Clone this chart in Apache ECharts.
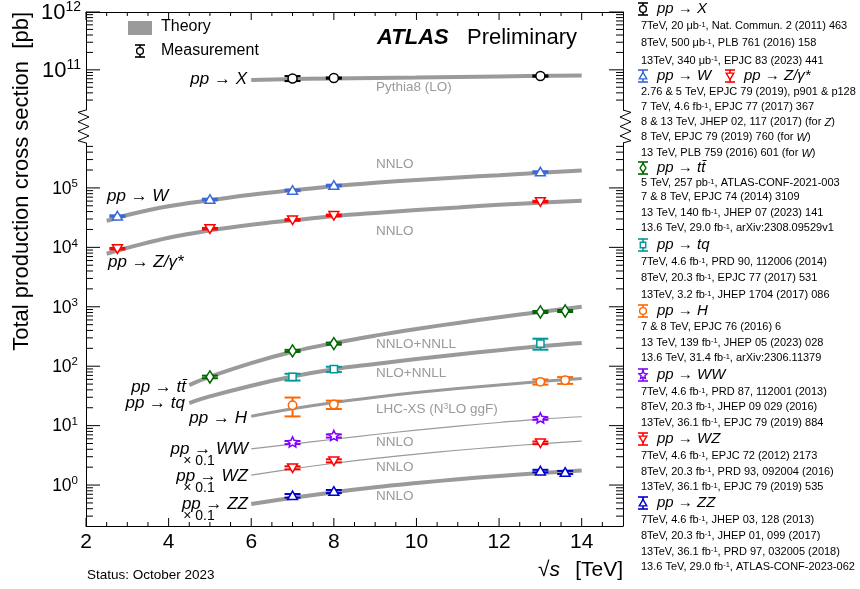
<!DOCTYPE html>
<html>
<head>
<meta charset="utf-8">
<script src="https://cdn.jsdelivr.net/npm/echarts@6/dist/echarts.min.js"></script>
<style>
  html, body { margin: 0; padding: 0; background: #fff; }
  #chart { width: 860px; height: 589px; }
</style>
</head>
<body>
<div id="chart"></div>
<script>
// ======================
// DATA
// ======================

// measurements (sqrt(s) in TeV, sigma in pb, relative uncertainty)
const sqrtsX = [7, 8, 13];
const xsecX = [7.1e10, 7.2e10, 7.8e10];
const errX = [0.10, 0.025, 0.025];

const sqrtsW = [2.76, 5, 7, 8, 13];
const xsecW = [3.36e4, 6.4e4, 9.1e4, 1.1e5, 1.85e5];
const errW = [0.03, 0.03, 0.03, 0.03, 0.03];

const sqrtsZ = [2.76, 5, 7, 8, 13];
const xsecZ = [9.5e3, 2.06e4, 2.9e4, 3.45e4, 5.9e4];
const errZ = [0.03, 0.03, 0.03, 0.03, 0.03];

const sqrtsTT = [5, 7, 8, 13, 13.6];
const xsecTT = [66, 181, 240, 818, 850];
const errTT = [0.05, 0.04, 0.04, 0.04, 0.04];

const sqrtsTQ = [7, 8, 13];
const xsecTQ = [66, 89, 240];
const errTQ = [0.13, 0.10, 0.21];

const sqrtsH = [7, 8, 13, 13.6];
const xsecH = [22, 22.7, 54.5, 58];
const errH = [0.35, 0.16, 0.10, 0.13];

const sqrtsWW = [7, 8, 13];
const xsecWW = [5.2, 6.7, 13.2];   // x 0.1
const errWW = [0.06, 0.06, 0.05];

const sqrtsWZ = [7, 8, 13];
const xsecWZ = [1.95, 2.56, 5.14]; // x 0.1
const errWZ = [0.06, 0.06, 0.05];

const sqrtsZZ = [7, 8, 13, 13.6];
const xsecZZ = [0.66, 0.78, 1.72, 1.63]; // x 0.1
const errZZ = [0.07, 0.06, 0.05, 0.06];

// theory predictions
const thSqrtsX = [6, 8, 10, 12, 14];
const thX = [6.7e10, 7.1e10, 7.4e10, 7.7e10, 8.0e10];

const thSqrtsWZ = [2.5, 2.76, 3, 4, 5, 6, 7, 8, 9, 10, 11, 12, 13, 14];
const thW = [2.8e4, 3.1e4, 3.5e4, 4.9e4, 6.2e4, 7.7e4, 9.1e4, 1.07e5, 1.22e5, 1.36e5, 1.5e5, 1.64e5, 1.8e5, 1.96e5];
const thZ = [7.8e3, 8.8e3, 9.8e3, 1.45e4, 1.93e4, 2.4e4, 2.85e4, 3.35e4, 3.8e4, 4.25e4, 4.7e4, 5.2e4, 5.65e4, 6.1e4];

const thSqrtsTop = [4.5, 5, 6, 7, 8, 9, 10, 11, 12, 13, 14];
const thTT = [48, 66.5, 113, 175, 245, 327, 423, 535, 668, 820, 1000];
const thTQ = [24, 31, 47, 67, 89, 109, 132, 158, 186, 217, 245];

const thSqrtsDi = [6, 7, 8, 9, 10, 11, 12, 13, 14];
const thH = [14.4, 19.2, 24.5, 30.1, 36.0, 42.1, 48.5, 55.1, 62.1];
const thWW = [4.05, 4.9, 5.9, 7.1, 8.4, 9.8, 11.3, 12.9, 14.1];
const thWZ = [1.47, 1.87, 2.33, 2.82, 3.32, 3.85, 4.4, 4.95, 5.5];
const thZZ = [0.48, 0.61, 0.76, 0.92, 1.08, 1.25, 1.42, 1.59, 1.76];

// axis ticks
const xMajorTicks = [2, 4, 6, 8, 10, 12, 14];
const xMinorTicks = [2.5, 3, 3.5, 4.5, 5, 5.5, 6.5, 7, 7.5, 8.5, 9, 9.5, 10.5, 11, 11.5, 12.5, 13, 13.5, 14.5];
const yMajorUpper = [1e11, 1e12];
const yMajorLower = [1, 10, 100, 1e3, 1e4, 1e5];

// references (right panel)
const refsX = ['7TeV, 20 μb{s|-1}, Nat. Commun. 2 (2011) 463', '8TeV, 500 μb{s|-1}, PLB 761 (2016) 158', '13TeV, 340 μb{s|-1}, EPJC 83 (2023) 441'];
const refsWZ = ['2.76 & 5 TeV, EPJC 79 (2019), p901 & p128', '7 TeV, 4.6 fb{s|-1}, EPJC 77 (2017) 367', '8 & 13 TeV, JHEP 02, 117 (2017) (for {i|Z})', '8 TeV, EPJC 79 (2019) 760 (for {i|W})', '13 TeV, PLB 759 (2016) 601 (for {i|W})'];
const refsTT = ['5 TeV, 257 pb{s|-1}, ATLAS-CONF-2021-003', '7 & 8 TeV, EPJC 74 (2014) 3109', '13 TeV, 140 fb{s|-1}, JHEP 07 (2023) 141', '13.6 TeV, 29.0 fb{s|-1}, arXiv:2308.09529v1'];
const refsTQ = ['7TeV, 4.6 fb{s|-1}, PRD 90, 112006 (2014)', '8TeV, 20.3 fb{s|-1}, EPJC 77 (2017) 531', '13TeV, 3.2 fb{s|-1}, JHEP 1704 (2017) 086'];
const refsH = ['7 & 8 TeV, EPJC 76 (2016) 6', '13 TeV, 139 fb{s|-1}, JHEP 05 (2023) 028', '13.6 TeV, 31.4 fb{s|-1}, arXiv:2306.11379'];
const refsWW = ['7TeV, 4.6 fb{s|-1}, PRD 87, 112001 (2013)', '8TeV, 20.3 fb{s|-1}, JHEP 09 029 (2016)', '13TeV, 36.1 fb{s|-1}, EPJC 79 (2019) 884'];
const refsWZd = ['7TeV, 4.6 fb{s|-1}, EPJC 72 (2012) 2173', '8TeV, 20.3 fb{s|-1}, PRD 93, 092004 (2016)', '13TeV, 36.1 fb{s|-1}, EPJC 79 (2019) 535'];
const refsZZ = ['7TeV, 4.6 fb{s|-1}, JHEP 03, 128 (2013)', '8TeV, 20.3 fb{s|-1}, JHEP 01, 099 (2017)', '13TeV, 36.1 fb{s|-1}, PRD 97, 032005 (2018)', '13.6 TeV, 29.0 fb{s|-1}, ATLAS-CONF-2023-062'];

// ======================
// STYLE / LAYOUT
// ======================
const FONT = '"Liberation Sans", Arial, Helvetica, sans-serif';
const GRAY = '#9a9a9a';
const C = {
    X: '#000000', W: '#3a68d8', Z: '#ff0000', TT: '#006600', TQ: '#009999',
    H: '#ff6600', WW: '#8000ff', WZ: '#ff0000', ZZ: '#0000cc'
};
const gridLeft = 86, gridRight = 623, breakTop = 110, breakBottom = 143, plotBottom = 526;
const upperMin = 2.02e10, upperMax = 1e12;
const lowerMin = 0.2047, lowerMax = 5.7e5;

// ======================
// HELPERS
// ======================
function markerShape(x, y, r, shape, color, lw) {
    const st = { fill: '#fff', stroke: color, lineWidth: lw || 1.5 };
    switch (shape) {
        case 'circle':
            return { type: 'circle', shape: { cx: x, cy: y, r: r }, style: st };
        case 'up':
            return { type: 'polygon', shape: { points: [[x, y - r * 1.05], [x + r * 1.1, y + r * 0.85], [x - r * 1.1, y + r * 0.85]] }, style: st };
        case 'down':
            return { type: 'polygon', shape: { points: [[x, y + r * 1.05], [x + r * 1.1, y - r * 0.85], [x - r * 1.1, y - r * 0.85]] }, style: st };
        case 'diamond':
            return { type: 'polygon', shape: { points: [[x, y - r * 1.35], [x + r * 0.85, y], [x, y + r * 1.35], [x - r * 0.85, y]] }, style: st };
        case 'square':
            return { type: 'rect', shape: { x: x - r * 0.8, y: y - r * 0.8, width: r * 1.6, height: r * 1.6 }, style: st };
        case 'star': {
            const pts = [];
            for (let k = 0; k < 10; k++) {
                const a = -Math.PI / 2 + k * Math.PI / 5;
                const rr = k % 2 === 0 ? r * 1.25 : r * 0.6;
                pts.push([x + rr * Math.cos(a), y + rr * Math.sin(a)]);
            }
            return { type: 'polygon', shape: { points: pts }, style: st };
        }
    }
}

function measSeries(xs, ys, errs, color, shape, r, xi, yi) {
    return {
        type: 'custom', xAxisIndex: xi, yAxisIndex: yi, z: 4, silent: true, clip: false,
        data: xs.map((x, i) => [x, ys[i], errs[i]]),
        renderItem: (params, api) => {
            const x = api.value(0), y = api.value(1), e = api.value(2);
            const p = api.coord([x, y]);
            const hi = api.coord([x, y * (1 + e)]);
            const lo = api.coord([x, y * (1 - e)]);
            const w = 8;
            const st = { stroke: color, lineWidth: 2 };
            return {
                type: 'group',
                children: [
                    { type: 'line', shape: { x1: hi[0], y1: hi[1], x2: lo[0], y2: lo[1] }, style: st },
                    { type: 'line', shape: { x1: hi[0] - w, y1: hi[1], x2: hi[0] + w, y2: hi[1] }, style: st },
                    { type: 'line', shape: { x1: lo[0] - w, y1: lo[1], x2: lo[0] + w, y2: lo[1] }, style: st },
                    markerShape(p[0], p[1], r, shape, color)
                ]
            };
        }
    };
}

function theorySeries(xs, ys, width, xi, yi) {
    return {
        type: 'line', xAxisIndex: xi, yAxisIndex: yi, z: 2, silent: true,
        smooth: 0.4, showSymbol: false, symbol: 'none',
        data: xs.map((x, i) => [x, ys[i]]),
        lineStyle: { color: GRAY, width: width }
    };
}

function minorDecades(lo, hi) {
    const out = [];
    for (let d = Math.floor(Math.log10(lo)); d <= Math.ceil(Math.log10(hi)); d++) {
        for (let k = 2; k <= 9; k++) {
            const v = k * Math.pow(10, d);
            if (v > lo && v < hi) out.push(v);
        }
    }
    return out;
}

function tickSeries(xi, yi, yMajor, yMinor, edgeY, dir) {
    return {
        type: 'custom', xAxisIndex: xi, yAxisIndex: yi, z: 6, silent: true, clip: false,
        data: [[2, yMajor[0]]],
        renderItem: (params, api) => {
            const children = [];
            const st = { stroke: '#000', lineWidth: 1 };
            const yt = (v, len) => {
                const l = api.coord([2, v]), r = api.coord([15, v]);
                children.push({ type: 'line', shape: { x1: l[0], y1: l[1], x2: l[0] + len, y2: l[1] }, style: st });
                children.push({ type: 'line', shape: { x1: r[0], y1: r[1], x2: r[0] - len, y2: r[1] }, style: st });
            };
            const xt = (v, len) => {
                const p = api.coord([v, edgeY]);
                children.push({ type: 'line', shape: { x1: p[0], y1: p[1], x2: p[0], y2: p[1] + dir * len }, style: st });
            };
            yMajor.forEach(v => yt(v, 14));
            yMinor.forEach(v => yt(v, 7));
            xMajorTicks.forEach(v => xt(v, 8));
            xMinorTicks.forEach(v => xt(v, 4));
            return { type: 'group', children: children };
        }
    };
}

function logLabel(size, supSize, lh) {
    return {
        fontFamily: FONT, color: '#000',
        formatter: v => '{b|10}{s|' + Math.round(Math.log10(v)) + '}',
        rich: {
            b: { fontSize: size, fontFamily: FONT, color: '#000', lineHeight: lh, verticalAlign: 'bottom' },
            s: { fontSize: supSize, fontFamily: FONT, color: '#000', lineHeight: supSize, verticalAlign: 'top' }
        }
    };
}

function txt(x, y, text, opts) {
    return {
        type: 'text', x: x, y: y, silent: true,
        style: Object.assign({ text: text, fontFamily: FONT, fontSize: 14, fill: '#000', align: 'left', verticalAlign: 'middle' }, opts || {})
    };
}

function icon(x, y, color, shape) {
    const st = { stroke: color, lineWidth: 1.6 };
    return {
        type: 'group', silent: true,
        children: [
            { type: 'line', shape: { x1: x, y1: y - 6, x2: x, y2: y + 6 }, style: st },
            { type: 'line', shape: { x1: x - 5, y1: y - 6, x2: x + 5, y2: y - 6 }, style: st },
            { type: 'line', shape: { x1: x - 5, y1: y + 6, x2: x + 5, y2: y + 6 }, style: st },
            markerShape(x, y, 3.4, shape, color, 1.4)
        ]
    };
}

function zigzag(x0, outDir) {
    const pts = [[x0, breakTop]];
    const n = 7;
    for (let k = 0; k < n; k++) {
        const y = breakTop + (k + 0.5) * (breakBottom - breakTop) / n;
        pts.push([k % 2 === 0 ? x0 + outDir * 8 : x0 - outDir * 3, y]);
    }
    pts.push([x0, breakBottom]);
    return { type: 'polyline', silent: true, shape: { points: pts }, style: { stroke: '#000', lineWidth: 1, fill: 'none' } };
}

// ======================
// GRAPHIC (texts, legends)
// ======================
const refStyle = {
    fontSize: 11,
    rich: {
        s: { fontSize: 7.5, fontFamily: FONT, fill: '#000', lineHeight: 7.5, verticalAlign: 'top' },
        i: { fontSize: 11, fontFamily: FONT, fill: '#000', fontStyle: 'italic', lineHeight: 12.5, verticalAlign: 'bottom' }
    }
};
const hdr = { fontSize: 15, fontStyle: 'italic' };
const rowY = [9, 26, 43, 60.5, 76, 91.7, 107, 122, 137, 152.7, 168, 183, 197, 213.3, 228, 245, 262, 278, 295, 311,
              327, 342.7, 358, 375, 392, 407, 422.7, 439, 456, 471.7, 487, 503, 520, 535.7, 551.7, 566.7];

const legendBlocks = [
    { head: [['pp → X', C.X, 'circle']], refs: refsX },
    { head: [['pp → W', C.W, 'up'], ['pp → Z/γ*', C.Z, 'down']], refs: refsWZ },
    { head: [['pp → tt\u0304', C.TT, 'diamond']], refs: refsTT },
    { head: [['pp → tq', C.TQ, 'square']], refs: refsTQ },
    { head: [['pp → H', C.H, 'circle']], refs: refsH },
    { head: [['pp → WW', C.WW, 'star']], refs: refsWW },
    { head: [['pp → WZ', C.WZ, 'down']], refs: refsWZd },
    { head: [['pp → ZZ', C.ZZ, 'up']], refs: refsZZ }
];

const graphics = [];
let row = 0;
legendBlocks.forEach(b => {
    const y = rowY[row++];
    b.head.forEach((h, k) => {
        const ix = k === 0 ? 643 : 730;
        graphics.push(icon(ix, y, h[1], h[2]));
        graphics.push(txt(ix + 14, y, h[0], hdr));
    });
    b.refs.forEach(r => graphics.push(txt(641, rowY[row++], r, refStyle)));
});

// theory / measurement legend
graphics.push({ type: 'rect', silent: true, shape: { x: 128, y: 21, width: 24, height: 14 }, style: { fill: GRAY } });
graphics.push(txt(161, 27, 'Theory', { fontSize: 16 }));
graphics.push(icon(140, 51, '#000', 'circle'));
graphics.push(txt(161, 51, 'Measurement', { fontSize: 16 }));

// ATLAS label
graphics.push(txt(377, 38, 'ATLAS', { fontSize: 22, fontWeight: 'bold', fontStyle: 'italic' }));
graphics.push(txt(467, 38, 'Preliminary', { fontSize: 22 }));

// theory labels
const thLabelY = [87, 164, 231, 344, 373, 409, 442, 467, 496];
const thLabelText = ['Pythia8 (LO)', 'NNLO', 'NNLO', 'NNLO+NNLL', 'NLO+NNLL', 'LHC-XS (N{s|3}LO ggF)', 'NNLO', 'NNLO', 'NNLO'];
thLabelText.forEach((t, i) => graphics.push(txt(376, thLabelY[i], t, {
    fontSize: 13.5, fill: GRAY,
    rich: {
        s: { fontSize: 8.5, fontFamily: FONT, fill: GRAY, lineHeight: 9, verticalAlign: 'top' }
    }
})));

// process labels
const pl = { fontSize: 17, fontStyle: 'italic' };
graphics.push(txt(247, 79, 'pp → X', Object.assign({ align: 'right' }, pl)));
graphics.push(txt(107, 196, 'pp → W', pl));
graphics.push(txt(108, 262, 'pp → Z/γ*', pl));
graphics.push(txt(186, 387, 'pp → tt\u0304', Object.assign({ align: 'right' }, pl)));
graphics.push(txt(185, 403, 'pp → tq', Object.assign({ align: 'right' }, pl)));
graphics.push(txt(247, 418, 'pp → H', Object.assign({ align: 'right' }, pl)));
[['WW', 449], ['WZ', 476], ['ZZ', 504]].forEach(([p, y]) => {
    graphics.push(txt(248, y, 'pp → ' + p, Object.assign({ align: 'right' }, pl)));
    graphics.push(txt(199, y + 12, '× 0.1', { fontSize: 14, align: 'center' }));
});

// axis titles
graphics.push(txt(22, 12, 'Total production cross section  [pb]', { fontSize: 22, align: 'right' }));
graphics[graphics.length - 1].rotation = Math.PI / 2;
graphics.push(txt(538, 570, '√{i|s}', { fontSize: 21, rich: { i: { fontSize: 21, fontFamily: FONT, fontStyle: 'italic', fill: '#000' } } }));
graphics.push(txt(623, 570, '[TeV]', { fontSize: 21, align: 'right' }));
graphics.push(txt(87, 575, 'Status: October 2023', { fontSize: 13.5 }));

// axis breaks
graphics.push(zigzag(gridLeft, -1));
graphics.push(zigzag(gridRight, 1));

// ======================
// CHART
// ======================
const axisLine = { show: true, onZero: false, lineStyle: { color: '#000', width: 1 } };
const noAxisDecor = { axisTick: { show: false }, splitLine: { show: false }, minorTick: { show: false } };

const option = {
    animation: false,
    backgroundColor: '#fff',
    grid: [
        { left: gridLeft, top: 10, width: gridRight - gridLeft, height: breakTop - 10 },
        { left: gridLeft, top: breakBottom, width: gridRight - gridLeft, height: plotBottom - breakBottom }
    ],
    xAxis: [
        Object.assign({ type: 'value', gridIndex: 0, position: 'top', min: 2, max: 15, axisLine: axisLine, axisLabel: { show: false } }, noAxisDecor),
        Object.assign({
            type: 'value', gridIndex: 1, position: 'bottom', min: 2, max: 15, interval: 2, axisLine: axisLine,
            axisLabel: { fontSize: 21, fontFamily: FONT, color: '#000', margin: 6, showMaxLabel: false }
        }, noAxisDecor)
    ],
    yAxis: [
        Object.assign({ type: 'log', gridIndex: 0, position: 'left', min: upperMin, max: upperMax, axisLine: axisLine,
            axisLabel: Object.assign({ margin: 5, showMinLabel: false, showMaxLabel: true }, logLabel(22, 14, 24)) }, noAxisDecor),
        Object.assign({ type: 'log', gridIndex: 0, position: 'right', min: upperMin, max: upperMax, axisLine: axisLine, axisLabel: { show: false } }, noAxisDecor),
        Object.assign({ type: 'log', gridIndex: 1, position: 'left', min: lowerMin, max: lowerMax, axisLine: axisLine,
            axisLabel: Object.assign({ margin: 8, showMinLabel: false, showMaxLabel: false }, logLabel(17.5, 11.5, 20)) }, noAxisDecor),
        Object.assign({ type: 'log', gridIndex: 1, position: 'right', min: lowerMin, max: lowerMax, axisLine: axisLine, axisLabel: { show: false } }, noAxisDecor)
    ],
    graphic: graphics,
    series: [
        theorySeries(thSqrtsX, thX, 4, 0, 0),
        theorySeries(thSqrtsWZ, thW, 4, 1, 2),
        theorySeries(thSqrtsWZ, thZ, 4, 1, 2),
        theorySeries(thSqrtsTop, thTT, 4, 1, 2),
        theorySeries(thSqrtsTop, thTQ, 4, 1, 2),
        theorySeries(thSqrtsDi, thH, 3, 1, 2),
        theorySeries(thSqrtsDi, thWW, 1.2, 1, 2),
        theorySeries(thSqrtsDi, thWZ, 1.2, 1, 2),
        theorySeries(thSqrtsDi, thZZ, 4, 1, 2),

        measSeries(sqrtsX, xsecX, errX, C.X, 'circle', 4.5, 0, 0),
        measSeries(sqrtsW, xsecW, errW, C.W, 'up', 4.5, 1, 2),
        measSeries(sqrtsZ, xsecZ, errZ, C.Z, 'down', 4.5, 1, 2),
        measSeries(sqrtsTT, xsecTT, errTT, C.TT, 'diamond', 4.5, 1, 2),
        measSeries(sqrtsTQ, xsecTQ, errTQ, C.TQ, 'square', 4.5, 1, 2),
        measSeries(sqrtsH, xsecH, errH, C.H, 'circle', 4.2, 1, 2),
        measSeries(sqrtsWW, xsecWW, errWW, C.WW, 'star', 4.5, 1, 2),
        measSeries(sqrtsWZ, xsecWZ, errWZ, C.WZ, 'down', 4.5, 1, 2),
        measSeries(sqrtsZZ, xsecZZ, errZZ, C.ZZ, 'up', 4.5, 1, 2),

        tickSeries(0, 0, yMajorUpper, minorDecades(upperMin, upperMax), upperMax, 1),
        tickSeries(1, 2, yMajorLower, minorDecades(lowerMin, lowerMax), lowerMin, -1)
    ]
};

const chart = echarts.init(document.getElementById('chart'));
chart.setOption(option);
</script>
</body>
</html>
